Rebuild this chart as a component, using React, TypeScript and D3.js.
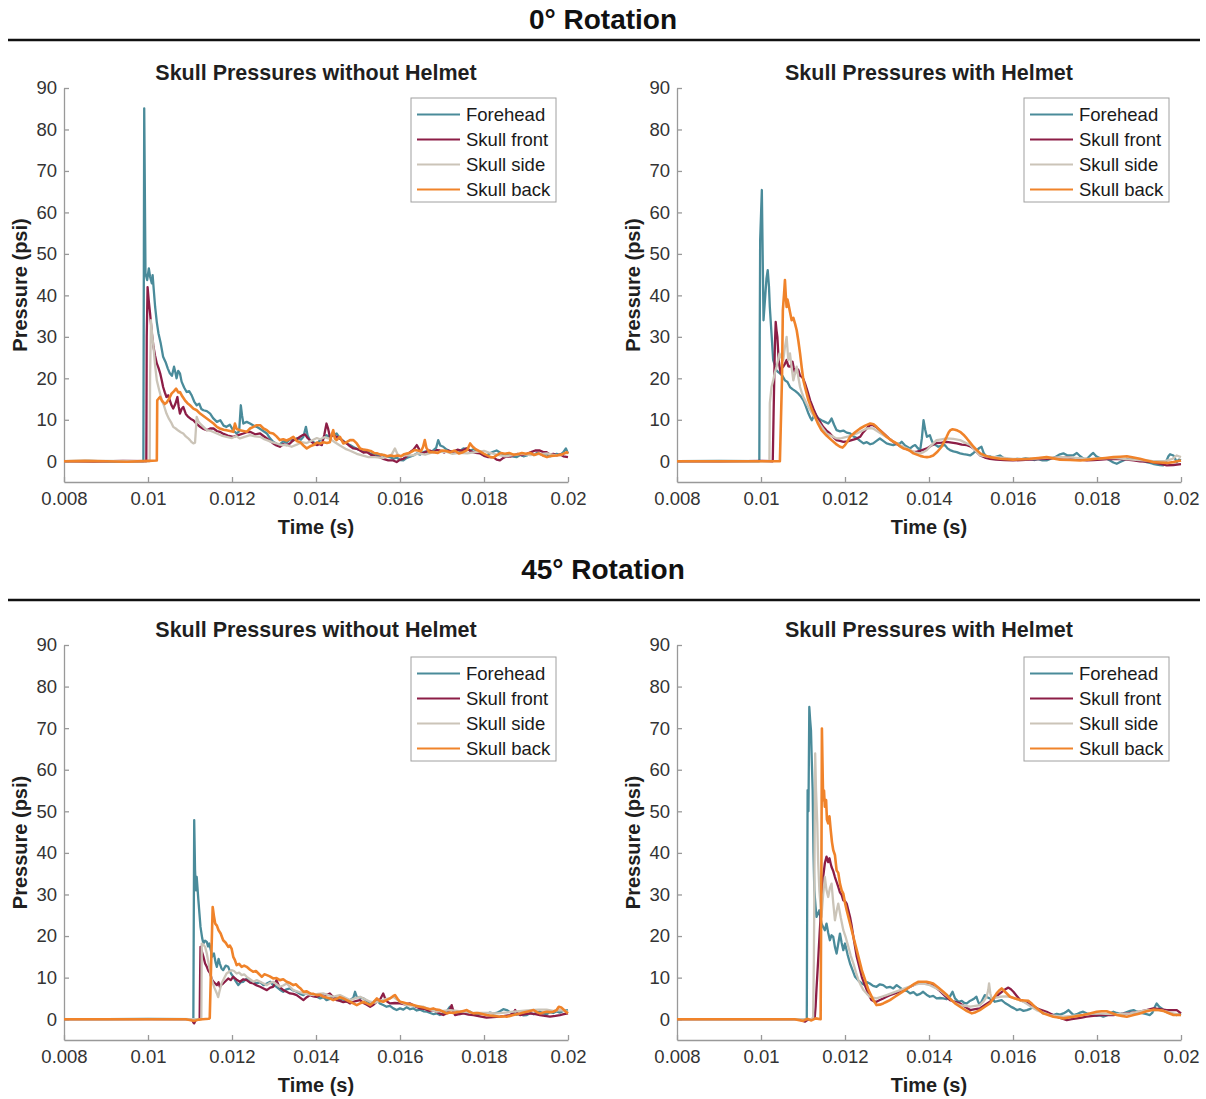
import React, { useRef, useEffect } from 'react';
import * as d3 from 'd3';

// legend + colours (same for every panel)
const seriesNames = ['Forehead', 'Skull front', 'Skull side', 'Skull back'];
const seriesColors = ['#4a8b9a', '#8c1d46', '#cbc4b8', '#f0832a'];

// time in ms, labels shown in s
const xTicks = [8, 10, 12, 14, 16, 18, 20];
const xTickLabels = ['0.008', '0.01', '0.012', '0.014', '0.016', '0.018', '0.02'];
const yTicks = [0, 10, 20, 30, 40, 50, 60, 70, 80, 90];

const sectionTitles = ['0° Rotation', '45° Rotation'];
const panelTitles = ['Skull Pressures without Helmet', 'Skull Pressures with Helmet'];

// ---- 0 deg, no helmet : [ms, psi]
const r0NoForehead = [[8,0],[8.6,0.1],[9.2,-0.1],[9.89,0],[9.91,85.1],[9.94,45.3],[9.98,43.7],[10.02,46.5],[10.05,44.5],[10.09,42.9],[10.11,44.9],[10.14,41],[10.17,37.2],[10.21,33.5],[10.25,30.8],[10.3,28.6],[10.36,25.2],[10.42,23.9],[10.47,22.4],[10.52,21.2],[10.57,20.6],[10.62,22.8],[10.65,21.5],[10.68,20],[10.72,21.8],[10.76,21.2],[10.8,19.2],[10.86,17.8],[10.92,16.7],[10.98,16.9],[11.04,15.9],[11.1,14.4],[11.16,13.5],[11.22,13.9],[11.27,12.6],[11.32,12.3],[11.4,12.1],[11.48,11.5],[11.55,10.4],[11.64,9.5],[11.72,9.9],[11.8,8.6],[11.87,8.3],[11.95,8.8],[12.03,7.4],[12.11,6.7],[12.17,7.2],[12.21,13.5],[12.24,11],[12.27,9.1],[12.35,9.5],[12.43,9.1],[12.51,8.6],[12.59,8.3],[12.7,7.6],[12.83,6.7],[12.9,5.6],[12.98,4.7],[13.06,4.2],[13.14,4.1],[13.22,4.8],[13.3,4.5],[13.38,5.3],[13.46,5.0],[13.56,5.6],[13.64,5.2],[13.7,5.9],[13.76,8.3],[13.8,6.2],[13.86,5.0],[13.94,4.6],[14.02,4.2],[14.1,5.1],[14.18,5.6],[14.25,6.3],[14.33,5.8],[14.41,6.4],[14.49,6.7],[14.57,5.5],[14.65,4.9],[14.73,4.3],[14.81,3.9],[14.9,3.4],[14.97,3.0],[15.05,2.7],[15.13,2.2],[15.21,2.5],[15.28,1.9],[15.36,1.8],[15.46,1.4],[15.56,1.6],[15.66,1.1],[15.76,1.0],[15.85,0.6],[15.92,0.9],[16.0,0.3],[16.08,0.2],[16.16,0.8],[16.24,1.1],[16.32,1.4],[16.4,1.9],[16.48,1.6],[16.55,2.2],[16.63,2.4],[16.71,2.1],[16.79,2.6],[16.86,3.2],[16.91,5.1],[16.96,3.8],[17.03,3.5],[17.11,2.8],[17.19,2.4],[17.27,2.2],[17.35,2.7],[17.43,2.5],[17.51,3.1],[17.59,3.0],[17.67,2.6],[17.75,2.9],[17.83,2.6],[17.9,2.0],[17.98,1.6],[18.06,1.4],[18.14,1.9],[18.22,2.3],[18.3,2.6],[18.38,2.1],[18.46,1.6],[18.54,1.8],[18.62,1.3],[18.7,1.1],[18.78,1.0],[18.86,1.5],[18.94,1.2],[19.02,1.4],[19.1,1.9],[19.18,1.5],[19.26,2.0],[19.33,1.8],[19.41,1.4],[19.49,1.7],[19.57,1.2],[19.65,1.4],[19.73,1.8],[19.81,1.5],[19.89,2.2],[19.95,3.1],[20.0,1.9]];
const r0NoFront = [[8,0],[8.7,-0.1],[9.4,0.1],[9.96,0],[9.97,30],[9.99,42],[10.02,38.5],[10.05,35.6],[10.09,31],[10.13,27.6],[10.17,25.4],[10.21,23.6],[10.25,22.5],[10.29,21.2],[10.33,19.4],[10.36,17.9],[10.4,16.6],[10.44,15.5],[10.48,15.9],[10.52,14.7],[10.56,13.5],[10.6,12.7],[10.65,13.8],[10.7,15.5],[10.73,13.2],[10.76,11.5],[10.8,12.6],[10.84,13.1],[10.9,11.4],[10.96,10.7],[11.02,10.2],[11.08,9.9],[11.16,9.0],[11.24,8.3],[11.32,7.8],[11.4,7.5],[11.48,7.9],[11.56,7.9],[11.64,7.3],[11.71,7.1],[11.8,6.6],[11.9,6.2],[12.03,5.9],[12.15,6.3],[12.27,6.7],[12.35,7.0],[12.43,7.1],[12.55,6.5],[12.67,6.7],[12.75,6.1],[12.83,5.5],[12.9,4.9],[12.98,4.3],[13.06,3.8],[13.14,3.5],[13.22,4.1],[13.3,3.9],[13.38,4.3],[13.46,5.1],[13.54,5.3],[13.62,5.9],[13.68,6.3],[13.74,6.5],[13.8,5.6],[13.86,5.0],[13.94,4.3],[14.02,3.9],[14.08,4.1],[14.14,3.9],[14.2,6.5],[14.25,9.1],[14.29,7.8],[14.33,5.9],[14.41,6.3],[14.49,5.9],[14.57,5.5],[14.65,4.8],[14.73,4.3],[14.81,3.6],[14.89,3.1],[14.97,3.0],[15.05,2.6],[15.13,2.1],[15.21,2.2],[15.3,1.6],[15.4,1.2],[15.52,1.0],[15.62,0.5],[15.72,0.2],[15.84,0.2],[15.92,-0.2],[16.0,0.4],[16.08,0.6],[16.16,1.2],[16.24,2.2],[16.32,2.8],[16.4,3.9],[16.46,2.8],[16.52,1.8],[16.6,2.2],[16.71,2.6],[16.8,2.2],[16.88,2.7],[16.95,2.6],[17.05,2.1],[17.15,2.6],[17.27,2.2],[17.37,2.8],[17.47,2.5],[17.59,3.1],[17.7,2.3],[17.8,2.0],[17.9,1.9],[18.0,1.3],[18.1,1.0],[18.22,1.0],[18.3,0.4],[18.38,0.2],[18.46,0.8],[18.54,1.2],[18.62,1.1],[18.7,1.4],[18.8,1.8],[18.9,1.5],[19.02,1.8],[19.12,2.2],[19.22,2.6],[19.33,2.6],[19.41,2.2],[19.49,2.2],[19.57,1.6],[19.65,1.8],[19.73,1.4],[19.81,1.7],[19.89,1.2],[20.0,1.0]];
const r0NoSide = [[8,0],[9,0.1],[10.04,0],[10.05,20],[10.07,34],[10.1,30.5],[10.13,27.6],[10.17,23],[10.21,19.5],[10.27,17],[10.33,14.7],[10.38,13.4],[10.44,11.5],[10.5,10.2],[10.55,9.4],[10.6,8.3],[10.66,7.9],[10.72,7.4],[10.78,7.0],[10.84,6.7],[10.9,6.0],[10.95,5.6],[11.0,5.1],[11.04,4.6],[11.08,4.3],[11.12,4.5],[11.16,10.7],[11.2,9.6],[11.24,9.1],[11.32,8.3],[11.4,7.5],[11.5,7.3],[11.64,6.7],[11.75,6.2],[11.87,5.9],[12.0,5.6],[12.1,6.1],[12.19,5.5],[12.3,5.9],[12.43,6.3],[12.55,6.0],[12.67,5.9],[12.75,5.4],[12.83,5.1],[12.95,4.6],[13.06,4.3],[13.18,3.9],[13.3,3.9],[13.42,3.5],[13.54,4.0],[13.66,4.6],[13.78,4.4],[13.9,5.0],[14.02,5.6],[14.1,5.3],[14.2,5.8],[14.33,5.4],[14.45,4.6],[14.57,3.8],[14.7,3.0],[14.8,2.6],[14.97,1.8],[15.1,1.4],[15.25,1.0],[15.4,1.0],[15.6,0.8],[15.8,1.6],[15.88,3.1],[15.94,1.7],[16.02,1.2],[16.12,1.4],[16.3,1.4],[16.45,1.9],[16.6,1.6],[16.75,2.1],[16.9,2.2],[17.1,2.3],[17.25,1.8],[17.4,2.0],[17.6,1.9],[17.8,2.2],[18.0,2.5],[18.15,2.0],[18.3,1.6],[18.5,1.2],[18.7,1.5],[18.9,1.8],[19.1,1.5],[19.3,1.7],[19.5,1.9],[19.7,1.4],[19.85,1.6],[20.0,2.2]];
const r0NoBack = [[8,0],[8.5,0.1],[9,0],[9.5,-0.1],[10.0,0.1],[10.21,0.2],[10.22,14.7],[10.26,15.2],[10.29,15.5],[10.33,14.6],[10.36,14.3],[10.4,13.8],[10.44,14.1],[10.5,15.0],[10.56,16.3],[10.62,16.9],[10.67,17.5],[10.72,16.6],[10.76,16.7],[10.82,15.6],[10.88,14.7],[10.94,14.0],[11.0,13.5],[11.08,12.7],[11.16,12.3],[11.24,11.5],[11.32,10.9],[11.4,10.3],[11.48,9.7],[11.56,9.1],[11.64,8.3],[11.71,7.9],[11.8,7.6],[11.87,7.5],[11.95,7.3],[12.03,7.1],[12.07,9.1],[12.11,7.8],[12.19,7.5],[12.27,7.3],[12.35,7.1],[12.43,7.9],[12.51,8.3],[12.59,8.7],[12.67,8.7],[12.75,7.9],[12.83,7.5],[12.9,6.9],[12.98,6.7],[13.06,6.0],[13.14,5.1],[13.22,5.3],[13.3,5.0],[13.38,5.4],[13.46,5.9],[13.54,4.9],[13.62,4.6],[13.7,3.8],[13.78,3.1],[13.86,3.6],[13.94,3.9],[14.02,4.5],[14.1,4.3],[14.18,4.6],[14.26,4.4],[14.33,4.6],[14.37,6.3],[14.41,7.5],[14.45,5.5],[14.49,5.1],[14.57,5.9],[14.65,4.3],[14.73,4.6],[14.81,5.1],[14.89,5.1],[14.97,4.3],[15.05,3.1],[15.13,2.8],[15.21,2.7],[15.3,2.5],[15.38,2.0],[15.46,1.9],[15.54,1.6],[15.62,1.5],[15.7,1.2],[15.78,1.4],[15.86,1.2],[15.94,1.4],[16.02,1.2],[16.1,1.7],[16.18,1.9],[16.26,2.2],[16.34,2.7],[16.42,2.6],[16.5,2.4],[16.55,3.5],[16.59,5.1],[16.63,3.2],[16.7,2.2],[16.8,2.2],[16.9,2.0],[17.0,2.6],[17.1,2.5],[17.2,2.2],[17.3,2.6],[17.4,1.9],[17.5,2.2],[17.6,2.7],[17.67,4.3],[17.72,3.6],[17.8,2.9],[17.9,2.4],[18.0,1.8],[18.1,1.3],[18.16,1.0],[18.22,0.9],[18.3,1.4],[18.4,2.0],[18.5,1.8],[18.6,2.0],[18.7,1.6],[18.8,1.7],[18.9,2.0],[19.0,1.8],[19.1,2.0],[19.2,1.5],[19.3,1.9],[19.4,1.4],[19.5,1.0],[19.6,1.3],[19.73,1.4],[19.85,1.6],[19.97,2.2],[20.0,1.8]];

// ---- 0 deg, with helmet
const r0HelmForehead = [[8,0],[9,0.1],[9.96,0],[9.97,30],[9.98,53.3],[10.02,65.4],[10.06,34.0],[10.1,39.7],[10.13,44],[10.16,46.1],[10.19,42.1],[10.21,37.2],[10.25,30.8],[10.29,24.4],[10.33,23.2],[10.36,22.0],[10.41,21.5],[10.45,21.2],[10.51,20.6],[10.57,19.5],[10.63,19.1],[10.69,17.9],[10.75,17.4],[10.82,16.9],[10.89,16.3],[10.95,15.6],[11.01,14.7],[11.07,13.2],[11.13,11.5],[11.17,10.6],[11.21,9.9],[11.25,10.8],[11.29,11.5],[11.36,10.4],[11.44,9.9],[11.52,9.5],[11.6,9.1],[11.64,9.6],[11.68,10.3],[11.74,8.8],[11.8,7.5],[11.88,7.2],[11.96,7.4],[12.04,6.9],[12.12,6.7],[12.2,6.0],[12.28,5.6],[12.36,4.9],[12.44,4.3],[12.52,4.6],[12.6,4.1],[12.67,4.3],[12.75,4.9],[12.83,5.5],[12.91,4.9],[12.99,4.3],[13.07,4.1],[13.15,3.9],[13.23,4.2],[13.31,4.3],[13.35,4.7],[13.43,3.8],[13.5,3.4],[13.55,3.1],[13.61,3.6],[13.67,3.9],[13.73,3.2],[13.79,2.7],[13.83,5.5],[13.87,9.9],[13.91,7.6],[13.95,5.9],[14.02,6.3],[14.06,5.1],[14.1,4.3],[14.16,3.9],[14.22,3.5],[14.3,3.8],[14.38,3.9],[14.44,3.1],[14.5,2.7],[14.58,2.4],[14.66,2.2],[14.74,1.9],[14.82,1.7],[14.9,1.6],[14.98,1.4],[15.06,2.0],[15.14,2.7],[15.2,3.2],[15.25,3.5],[15.3,2.0],[15.37,1.0],[15.45,1.2],[15.53,0.8],[15.61,1.1],[15.69,1.4],[15.77,0.8],[15.85,0.6],[15.93,0.4],[16.0,0.4],[16.1,0.6],[16.2,0.5],[16.3,0.7],[16.4,0.6],[16.5,0.3],[16.6,0.5],[16.7,0.2],[16.8,0.2],[16.9,0.6],[17.0,1.0],[17.1,1.6],[17.2,1.9],[17.3,1.4],[17.43,1.4],[17.52,2.0],[17.6,1.2],[17.68,0.6],[17.76,0.6],[17.84,1.4],[17.91,2.0],[17.98,1.2],[18.06,0.8],[18.15,0.6],[18.23,0.6],[18.31,0.2],[18.39,-0.3],[18.47,-0.6],[18.55,-0.2],[18.63,0.2],[18.71,0.6],[18.79,0.4],[18.87,0.6],[18.95,0.3],[19.02,0.2],[19.1,0.1],[19.18,-0.2],[19.26,-0.4],[19.33,-0.6],[19.42,-0.8],[19.5,-0.9],[19.58,-1.0],[19.64,-0.2],[19.7,1.2],[19.74,1.7],[19.82,1.4],[19.9,-0.2],[19.95,0.4],[20.0,0.2]];
const r0HelmFront = [[8,0],[9,-0.1],[10,0.1],[10.28,0],[10.3,11.5],[10.33,27.6],[10.35,33.6],[10.37,31.5],[10.39,30.0],[10.42,24.4],[10.45,22.3],[10.47,21.2],[10.5,22.5],[10.53,22.8],[10.57,23.5],[10.61,24.4],[10.65,22.9],[10.69,22.8],[10.72,23.4],[10.75,24.0],[10.78,22.5],[10.81,21.2],[10.85,22.4],[10.89,22.0],[10.93,20.6],[10.97,20.4],[11.01,19.8],[11.05,18.7],[11.11,16.8],[11.17,14.7],[11.25,12.6],[11.33,10.7],[11.4,9.6],[11.48,8.3],[11.56,7.4],[11.64,6.7],[11.72,5.8],[11.8,5.1],[11.88,4.9],[11.96,4.7],[12.06,4.8],[12.16,5.1],[12.26,5.4],[12.36,5.9],[12.42,6.8],[12.48,7.5],[12.54,8.2],[12.6,8.7],[12.67,8.7],[12.75,8.2],[12.83,7.5],[12.95,6.4],[13.07,5.3],[13.19,4.4],[13.31,3.7],[13.43,3.1],[13.55,2.6],[13.63,2.2],[13.71,2.3],[13.79,2.5],[13.87,2.8],[13.95,3.1],[14.06,3.8],[14.18,4.4],[14.3,4.5],[14.42,4.7],[14.54,4.5],[14.66,4.3],[14.78,4.0],[14.9,3.9],[14.98,3.6],[15.06,3.1],[15.14,2.2],[15.22,1.4],[15.33,0.9],[15.45,0.6],[15.6,0.4],[15.8,0.3],[16.0,0.2],[16.2,0.3],[16.4,0.4],[16.6,0.5],[16.8,0.6],[17.0,0.8],[17.14,0.9],[17.28,1.0],[17.44,0.7],[17.6,0.4],[17.76,0.2],[17.92,0.3],[18.1,0.4],[18.25,0.5],[18.39,0.6],[18.55,0.5],[18.71,0.4],[18.87,0.2],[19.02,0.0],[19.18,-0.1],[19.33,-0.2],[19.5,-0.6],[19.66,-1.0],[19.82,-0.9],[20.0,-0.7]];
const r0HelmSide = [[8,0],[9,0],[10,0],[10.2,0],[10.21,14],[10.25,17.9],[10.29,19.5],[10.33,21.4],[10.37,22.8],[10.41,24.5],[10.44,26.0],[10.48,25.0],[10.53,24.4],[10.57,27.5],[10.61,30.0],[10.65,24.4],[10.69,26.0],[10.73,22.5],[10.77,19.5],[10.81,21.2],[10.85,22.8],[10.89,20.2],[10.93,17.9],[10.97,16.6],[11.01,15.5],[11.09,13.8],[11.17,12.3],[11.25,11.0],[11.33,9.9],[11.45,8.2],[11.56,6.7],[11.68,6.1],[11.8,5.5],[11.92,5.6],[12.04,5.9],[12.16,6.2],[12.28,6.7],[12.4,7.3],[12.52,7.9],[12.6,8.0],[12.67,7.9],[12.79,7.1],[12.91,6.3],[13.07,5.3],[13.23,4.3],[13.39,3.5],[13.55,2.7],[13.67,2.1],[13.79,1.9],[13.87,2.2],[13.95,2.7],[14.06,3.9],[14.18,5.1],[14.3,5.3],[14.42,5.5],[14.58,5.4],[14.74,5.1],[14.86,4.5],[14.98,3.9],[15.1,2.6],[15.22,1.4],[15.4,1.1],[15.61,1.0],[15.8,0.8],[16.0,0.6],[16.3,0.5],[16.6,0.7],[16.9,0.9],[17.2,1.0],[17.5,0.8],[17.8,0.6],[18.1,0.7],[18.4,0.8],[18.7,0.5],[19.0,0.3],[19.3,0.1],[19.6,0.0],[19.8,0.6],[19.9,1.4],[20.0,1.0]];
const r0HelmBack = [[8,0],[9,0],[10,0],[10.45,0],[10.5,20],[10.52,36.4],[10.55,40.5],[10.57,43.7],[10.59,40],[10.61,37.2],[10.63,39],[10.65,38.1],[10.69,36],[10.73,34.0],[10.77,34.6],[10.81,33.2],[10.85,31.6],[10.89,29],[10.93,26.0],[10.97,22.6],[11.01,19.5],[11.07,17],[11.13,14.7],[11.21,12.5],[11.29,10.7],[11.36,9.0],[11.44,7.5],[11.56,6.2],[11.68,5.1],[11.78,4.2],[11.88,3.5],[11.94,3.3],[12.0,3.9],[12.06,4.8],[12.12,5.9],[12.24,7.0],[12.36,7.9],[12.48,8.6],[12.6,9.1],[12.68,8.9],[12.75,8.3],[12.87,7.1],[12.99,5.9],[13.11,5.0],[13.23,4.3],[13.31,3.6],[13.39,3.1],[13.47,2.9],[13.55,2.5],[13.63,1.9],[13.71,1.6],[13.79,1.3],[13.87,1.1],[13.95,1.0],[14.02,1.1],[14.1,1.4],[14.2,2.3],[14.3,3.5],[14.36,4.7],[14.42,5.9],[14.47,7.0],[14.51,7.5],[14.56,7.7],[14.62,7.6],[14.68,7.4],[14.74,7.1],[14.82,6.4],[14.9,5.5],[14.98,4.5],[15.06,3.5],[15.14,2.7],[15.22,1.9],[15.33,1.4],[15.45,1.0],[15.57,0.8],[15.69,0.6],[15.85,0.5],[16.0,0.4],[16.2,0.5],[16.4,0.6],[16.6,0.8],[16.8,1.0],[16.96,0.7],[17.12,0.4],[17.36,0.3],[17.6,0.2],[17.8,0.4],[18.0,0.6],[18.2,0.8],[18.39,1.0],[18.55,1.1],[18.71,1.2],[18.87,0.9],[19.02,0.6],[19.18,0.2],[19.33,-0.2],[19.5,-0.3],[19.66,-0.4],[19.82,-0.2],[20.0,0.2]];

// ---- 45 deg, no helmet
const r45NoForehead = [[8,0],[9,0],[10,0.1],[11.08,0],[11.1,47.9],[11.12,36],[11.14,31.0],[11.16,34.2],[11.2,28.6],[11.25,22.2],[11.29,19.5],[11.32,18.2],[11.36,18.9],[11.4,18.6],[11.43,17.5],[11.46,18.2],[11.5,16.4],[11.52,15.0],[11.57,15.8],[11.61,13.6],[11.64,12.6],[11.68,14.5],[11.71,13.4],[11.75,12.2],[11.79,11.8],[11.85,12.9],[11.91,12.6],[11.97,11.1],[12.03,10.2],[12.09,9.1],[12.15,8.2],[12.21,8.9],[12.27,9.0],[12.35,9.8],[12.43,9.4],[12.51,8.9],[12.59,8.6],[12.67,8.9],[12.75,8.2],[12.83,8.6],[12.91,9.0],[12.98,8.2],[13.06,7.8],[13.14,7.1],[13.22,6.6],[13.3,7.2],[13.38,7.4],[13.46,6.9],[13.54,6.6],[13.62,6.1],[13.7,5.8],[13.78,6.4],[13.86,6.2],[13.94,5.6],[14.02,5.4],[14.1,5.0],[14.18,5.3],[14.25,4.6],[14.33,4.9],[14.41,5.4],[14.49,5.0],[14.57,4.6],[14.65,4.8],[14.73,4.2],[14.81,4.6],[14.89,5.2],[14.93,6.6],[14.97,5.4],[15.05,5.2],[15.13,5.0],[15.21,4.4],[15.29,3.8],[15.37,4.2],[15.45,4.6],[15.52,3.8],[15.6,3.4],[15.68,3.0],[15.76,3.2],[15.84,2.6],[15.92,2.2],[16.0,2.6],[16.08,2.3],[16.16,2.9],[16.24,2.4],[16.32,2.6],[16.4,2.1],[16.48,2.3],[16.56,1.9],[16.64,1.8],[16.72,1.5],[16.8,1.2],[16.88,1.4],[16.95,1.0],[17.03,1.4],[17.11,1.9],[17.19,3.0],[17.27,2.0],[17.35,1.4],[17.43,1.2],[17.51,1.6],[17.59,1.4],[17.67,1.8],[17.75,1.2],[17.83,1.0],[17.9,1.3],[17.98,1.4],[18.06,1.1],[18.14,1.6],[18.22,1.4],[18.3,1.5],[18.38,1.9],[18.46,2.4],[18.54,2.2],[18.62,1.7],[18.7,1.5],[18.78,1.1],[18.86,1.3],[18.94,0.9],[19.02,1.0],[19.1,1.5],[19.18,1.2],[19.26,1.6],[19.33,1.8],[19.41,1.4],[19.49,1.2],[19.57,1.7],[19.65,1.5],[19.73,1.9],[19.81,1.6],[19.89,2.0],[20.0,2.2]];
const r45NoFront = [[8,0],[9,0],[10,0],[11.05,0],[11.08,-0.8],[11.1,-1.0],[11.13,-0.3],[11.2,-0.1],[11.23,0],[11.24,10],[11.25,17.4],[11.29,16.0],[11.32,15.0],[11.36,13.4],[11.4,12.6],[11.44,11.6],[11.48,11.0],[11.52,9.6],[11.56,9.0],[11.6,8.6],[11.64,8.2],[11.68,8.9],[11.71,7.8],[11.75,8.3],[11.79,8.6],[11.85,9.2],[11.91,9.8],[11.97,9.4],[12.03,10.2],[12.11,9.5],[12.19,9.0],[12.27,9.6],[12.35,9.4],[12.43,8.8],[12.51,8.6],[12.59,8.1],[12.67,7.8],[12.75,7.4],[12.83,7.0],[12.91,7.6],[12.98,7.8],[13.02,8.6],[13.06,9.4],[13.12,7.9],[13.22,7.0],[13.3,6.6],[13.38,6.2],[13.46,6.1],[13.54,5.8],[13.62,5.2],[13.7,4.6],[13.78,5.3],[13.86,5.8],[13.94,5.5],[14.02,5.4],[14.1,5.7],[14.18,6.0],[14.25,5.8],[14.33,6.2],[14.41,5.3],[14.49,4.6],[14.57,4.4],[14.65,4.1],[14.73,4.3],[14.81,3.8],[14.89,4.2],[14.97,4.4],[15.05,4.6],[15.13,3.9],[15.21,3.5],[15.29,3.0],[15.37,3.5],[15.45,4.2],[15.52,4.6],[15.6,6.2],[15.65,4.9],[15.7,4.2],[15.76,3.8],[15.88,3.9],[16.0,3.8],[16.12,3.6],[16.24,3.8],[16.36,3.1],[16.48,2.6],[16.6,2.4],[16.7,2.0],[16.79,2.2],[16.9,1.6],[17.03,1.0],[17.13,1.5],[17.2,2.6],[17.23,3.4],[17.27,2.0],[17.31,1.0],[17.41,1.2],[17.51,1.4],[17.63,1.1],[17.75,1.0],[17.9,0.7],[18.06,0.4],[18.22,0.5],[18.38,0.6],[18.5,0.8],[18.62,1.0],[18.7,1.6],[18.74,2.2],[18.8,1.4],[18.86,1.0],[18.98,1.2],[19.1,1.4],[19.22,1.2],[19.33,1.0],[19.45,0.8],[19.57,0.6],[19.7,0.8],[19.81,1.0],[19.9,1.2],[20.0,1.4]];
const r45NoSide = [[8,0],[9,0],[10,0],[11.27,0],[11.28,18.2],[11.32,17.9],[11.36,17.4],[11.4,15.8],[11.46,12.5],[11.52,9.4],[11.58,7.6],[11.64,6.2],[11.67,5.3],[11.7,6.6],[11.75,8.6],[11.81,9.8],[11.87,11.0],[11.93,11.4],[11.99,11.8],[12.05,11.6],[12.11,11.0],[12.17,11.2],[12.23,10.6],[12.29,10.8],[12.35,10.2],[12.43,9.6],[12.51,9.0],[12.59,9.4],[12.67,9.0],[12.75,8.6],[12.83,8.2],[12.9,8.7],[12.98,9.0],[13.06,8.4],[13.14,7.8],[13.22,8.1],[13.3,8.6],[13.38,7.8],[13.46,7.0],[13.58,6.6],[13.7,6.2],[13.82,6.0],[13.94,5.8],[14.05,6.1],[14.17,6.2],[14.29,5.8],[14.41,5.4],[14.49,5.6],[14.57,5.8],[14.69,5.2],[14.81,4.6],[14.93,5.0],[15.05,5.4],[15.17,4.8],[15.29,4.2],[15.41,4.0],[15.52,4.4],[15.64,4.8],[15.76,5.0],[15.84,5.4],[15.92,4.8],[16.0,4.2],[16.08,3.8],[16.16,3.4],[16.28,3.3],[16.4,3.1],[16.56,3.0],[16.7,2.4],[16.87,1.8],[17.03,2.0],[17.19,2.2],[17.35,2.0],[17.51,1.8],[17.7,1.6],[17.9,1.5],[18.1,1.5],[18.3,1.4],[18.5,1.6],[18.7,1.8],[18.9,2.0],[19.1,2.2],[19.3,2.3],[19.49,2.3],[19.65,2.0],[19.81,2.2],[20.0,1.8]];
const r45NoBack = [[8,0],[9,0],[10,0],[10.9,0],[11.05,-0.3],[11.1,-0.4],[11.2,-0.1],[11.3,0],[11.45,0.1],[11.47,0.3],[11.5,12],[11.54,27.0],[11.57,24.8],[11.6,23.0],[11.64,22.5],[11.68,21.4],[11.73,20.6],[11.79,19.0],[11.85,18.4],[11.91,17.4],[11.95,17.7],[11.99,17.0],[12.03,15.0],[12.07,14.2],[12.11,13.0],[12.17,13.3],[12.23,12.6],[12.29,12.9],[12.35,12.6],[12.43,11.9],[12.51,11.4],[12.57,11.6],[12.63,11.0],[12.71,10.2],[12.77,10.8],[12.83,10.6],[12.9,10.3],[12.98,9.8],[13.06,9.9],[13.14,9.4],[13.22,9.6],[13.3,9.0],[13.38,8.7],[13.46,8.2],[13.52,8.4],[13.58,7.8],[13.64,7.3],[13.7,6.6],[13.78,6.7],[13.86,6.2],[13.94,6.1],[14.02,5.8],[14.1,5.9],[14.17,5.4],[14.25,5.2],[14.33,5.0],[14.41,4.6],[14.49,4.9],[14.57,5.3],[14.65,5.0],[14.73,4.6],[14.81,4.2],[14.89,3.8],[14.97,3.4],[15.05,3.8],[15.13,4.2],[15.21,3.8],[15.29,3.4],[15.37,4.1],[15.45,5.0],[15.52,4.4],[15.6,4.2],[15.68,4.6],[15.76,5.0],[15.84,5.6],[15.88,5.8],[15.94,4.9],[16.0,4.2],[16.08,4.0],[16.16,3.8],[16.24,3.6],[16.32,3.4],[16.4,3.2],[16.48,3.0],[16.56,2.8],[16.64,2.6],[16.72,2.4],[16.79,2.6],[16.87,2.3],[16.95,2.2],[17.03,1.8],[17.11,1.4],[17.19,1.6],[17.27,1.5],[17.35,1.7],[17.43,1.8],[17.51,2.0],[17.59,2.2],[17.67,1.7],[17.75,1.4],[17.83,1.5],[17.9,1.4],[17.98,1.2],[18.06,1.0],[18.14,0.9],[18.22,0.8],[18.3,0.7],[18.38,0.6],[18.46,0.7],[18.54,0.6],[18.62,0.8],[18.7,1.0],[18.78,1.2],[18.86,1.4],[18.94,1.6],[19.02,1.8],[19.1,2.0],[19.18,2.2],[19.26,1.7],[19.33,1.4],[19.41,1.6],[19.49,1.8],[19.57,1.7],[19.65,1.8],[19.73,2.2],[19.78,3.0],[19.84,2.8],[19.9,2.3],[19.95,1.8],[20.0,1.4]];

// ---- 45 deg, with helmet
const r45HelmForehead = [[8,0],[9,0],[10,0],[11.09,0],[11.11,55.1],[11.13,50],[11.15,75.1],[11.17,72],[11.19,69.5],[11.21,62],[11.23,55.1],[11.25,40],[11.27,31.0],[11.3,27],[11.32,24.6],[11.36,25.5],[11.39,26.2],[11.42,24.2],[11.44,23.0],[11.48,22.2],[11.52,21.4],[11.56,23.0],[11.6,20.8],[11.64,19.0],[11.68,20.2],[11.72,19.8],[11.76,17.4],[11.8,15.8],[11.84,18.2],[11.88,20.6],[11.92,18.4],[11.96,16.6],[12.0,18.2],[12.06,15.6],[12.12,13.4],[12.18,11.8],[12.24,10.2],[12.32,9.3],[12.4,8.6],[12.48,8.2],[12.53,8.9],[12.59,8.6],[12.67,8.0],[12.75,7.8],[12.83,8.4],[12.91,8.2],[12.99,7.6],[13.07,7.8],[13.15,7.4],[13.23,8.2],[13.31,7.6],[13.39,7.0],[13.47,6.8],[13.55,6.2],[13.63,6.5],[13.71,5.8],[13.79,6.1],[13.86,6.6],[13.94,5.9],[14.02,5.4],[14.1,5.6],[14.18,5.0],[14.26,5.1],[14.34,5.0],[14.42,4.8],[14.5,5.5],[14.56,6.6],[14.62,5.0],[14.7,4.2],[14.78,4.4],[14.84,3.9],[14.9,3.8],[14.96,4.3],[15.02,4.6],[15.08,5.0],[15.13,5.4],[15.17,4.2],[15.21,3.4],[15.27,4.6],[15.33,5.8],[15.39,5.3],[15.45,5.0],[15.51,4.7],[15.57,4.2],[15.65,4.4],[15.73,4.6],[15.81,3.9],[15.89,3.4],[15.97,2.9],[16.03,2.6],[16.09,2.2],[16.17,2.4],[16.25,2.0],[16.33,2.2],[16.41,2.5],[16.47,2.8],[16.52,3.0],[16.6,2.4],[16.66,1.9],[16.72,1.4],[16.8,1.6],[16.88,1.2],[16.96,1.0],[17.04,1.3],[17.12,1.1],[17.2,1.4],[17.27,1.8],[17.32,2.2],[17.38,1.6],[17.44,1.0],[17.52,1.2],[17.6,1.6],[17.67,1.8],[17.75,1.4],[17.83,1.2],[17.91,1.0],[17.99,0.8],[18.07,0.9],[18.15,0.6],[18.23,0.9],[18.31,1.4],[18.39,1.8],[18.47,1.5],[18.55,1.3],[18.63,1.4],[18.71,1.7],[18.79,2.0],[18.87,2.2],[18.95,1.8],[19.02,1.6],[19.1,1.4],[19.18,1.2],[19.26,1.0],[19.32,1.6],[19.38,3.0],[19.42,3.8],[19.48,3.0],[19.54,2.6],[19.6,2.0],[19.67,1.7],[19.74,1.4],[19.82,1.2],[19.9,1.0],[20.0,1.4]];
const r45HelmFront = [[8,0],[9,0],[10,0],[10.9,0],[11.0,-0.4],[11.05,-0.6],[11.1,-0.2],[11.2,0],[11.28,0.5],[11.3,3],[11.32,7.0],[11.36,14],[11.4,21.4],[11.44,28],[11.48,34.2],[11.52,37.5],[11.56,39.1],[11.6,37.8],[11.63,38.7],[11.66,37.4],[11.68,36.6],[11.72,35.6],[11.76,34.2],[11.8,33.0],[11.84,31.8],[11.88,30.5],[11.92,29.9],[11.96,28.6],[12.0,28.4],[12.04,27.8],[12.08,26.2],[12.12,24.6],[12.16,22.4],[12.2,19.8],[12.24,17.4],[12.28,15.0],[12.34,12.6],[12.4,10.2],[12.46,8.5],[12.52,7.0],[12.58,5.6],[12.63,4.6],[12.69,4.3],[12.75,4.2],[12.83,4.6],[12.91,5.0],[12.99,5.4],[13.07,5.8],[13.19,6.2],[13.31,6.6],[13.43,7.2],[13.55,7.8],[13.63,8.2],[13.71,8.6],[13.79,8.7],[13.86,8.7],[13.94,8.7],[14.02,8.6],[14.14,7.8],[14.26,6.8],[14.38,5.6],[14.5,4.6],[14.62,4.2],[14.74,3.8],[14.86,3.0],[14.98,2.2],[15.1,2.4],[15.21,2.6],[15.33,3.4],[15.45,4.2],[15.57,5.2],[15.69,6.2],[15.79,7.0],[15.89,7.6],[15.95,7.2],[16.01,6.6],[16.09,5.6],[16.17,4.6],[16.27,4.2],[16.36,3.8],[16.46,3.2],[16.56,2.6],[16.68,2.2],[16.8,1.8],[16.92,1.2],[17.04,0.6],[17.16,0.2],[17.28,-0.2],[17.4,0.0],[17.52,0.2],[17.64,0.4],[17.75,0.6],[17.91,0.8],[18.07,1.0],[18.23,1.0],[18.39,1.0],[18.55,1.2],[18.71,1.4],[18.87,1.6],[19.02,1.8],[19.18,2.2],[19.34,2.6],[19.5,2.4],[19.66,2.2],[19.8,2.2],[19.9,2.2],[20.0,1.4]];
const r45HelmSide = [[8,0],[9,0],[10,0],[11.0,0],[11.24,0],[11.26,15],[11.29,63.9],[11.31,55],[11.34,47.1],[11.36,38],[11.39,31.0],[11.42,27],[11.44,24.6],[11.48,30],[11.52,34.2],[11.56,31],[11.6,29.4],[11.64,31.5],[11.68,32.6],[11.72,28],[11.76,23.8],[11.8,26],[11.84,27.8],[11.9,24.4],[11.96,21.4],[12.02,19.6],[12.08,17.4],[12.14,15.2],[12.2,13.4],[12.26,11.3],[12.32,9.4],[12.38,8.1],[12.44,7.0],[12.52,6.1],[12.59,5.4],[12.67,5.2],[12.75,5.0],[12.87,5.4],[12.99,5.8],[13.15,6.4],[13.31,7.0],[13.47,7.6],[13.63,8.2],[13.75,8.5],[13.86,8.6],[13.94,8.4],[14.02,8.2],[14.14,7.6],[14.26,7.0],[14.38,6.0],[14.5,5.0],[14.62,3.9],[14.74,3.4],[14.86,3.2],[14.98,3.0],[15.1,3.2],[15.21,3.4],[15.3,4.3],[15.37,5.4],[15.41,7.0],[15.43,8.6],[15.46,6.2],[15.49,5.0],[15.59,5.2],[15.69,5.4],[15.81,5.5],[15.93,5.4],[16.09,4.8],[16.25,4.2],[16.4,3.2],[16.56,2.2],[16.72,1.6],[16.88,1.0],[17.04,0.8],[17.2,0.6],[17.4,0.8],[17.6,1.0],[17.8,1.2],[17.99,1.4],[18.2,1.3],[18.39,1.2],[18.6,1.3],[18.79,1.4],[19.0,1.8],[19.18,2.2],[19.34,2.2],[19.5,2.2],[19.66,1.8],[19.82,1.4],[20.0,1.0]];
const r45HelmBack = [[8,0],[9,0],[10,0],[10.8,0],[11.0,-0.4],[11.1,0.1],[11.2,-0.3],[11.3,0.2],[11.42,0],[11.44,40],[11.45,69.9],[11.47,58],[11.48,52.7],[11.5,55],[11.52,51.1],[11.55,52.7],[11.57,48],[11.6,47.1],[11.63,48.8],[11.66,45.5],[11.69,42.6],[11.72,40.7],[11.76,39.5],[11.8,35.8],[11.84,35.2],[11.88,32.6],[11.92,31.0],[11.96,30.2],[12.0,28.0],[12.04,26.2],[12.1,23.8],[12.16,21.4],[12.22,19.0],[12.28,16.6],[12.34,14.2],[12.4,11.8],[12.48,9.4],[12.56,7.0],[12.66,4.9],[12.75,3.4],[12.83,3.5],[12.91,3.8],[12.99,4.2],[13.07,4.6],[13.19,5.4],[13.31,6.2],[13.43,7.0],[13.55,7.8],[13.65,8.5],[13.75,9.0],[13.85,9.0],[13.94,9.0],[14.02,8.8],[14.1,8.6],[14.22,7.6],[14.34,6.6],[14.42,5.9],[14.5,4.9],[14.62,3.8],[14.74,3.0],[14.88,2.1],[15.02,1.4],[15.11,1.7],[15.21,2.2],[15.33,3.0],[15.45,3.8],[15.53,5.0],[15.61,6.2],[15.67,6.9],[15.73,7.4],[15.81,6.6],[15.87,6.0],[15.93,5.4],[16.05,5.0],[16.17,4.6],[16.27,4.5],[16.37,4.4],[16.45,3.7],[16.52,3.0],[16.62,2.2],[16.72,1.4],[16.84,1.0],[16.96,0.6],[17.08,0.4],[17.2,0.2],[17.32,0.4],[17.44,0.6],[17.55,0.8],[17.67,1.0],[17.83,1.4],[17.99,1.8],[18.11,1.9],[18.23,1.9],[18.35,1.5],[18.47,1.0],[18.59,0.8],[18.71,0.6],[18.87,1.0],[19.02,1.4],[19.18,1.9],[19.34,2.3],[19.46,2.2],[19.58,2.0],[19.7,1.5],[19.82,1.0],[20.0,1.0]];

const panels = [
  { row: 0, col: 0, title: panelTitles[0], series: [r0NoForehead, r0NoFront, r0NoSide, r0NoBack] },
  { row: 0, col: 1, title: panelTitles[1], series: [r0HelmForehead, r0HelmFront, r0HelmSide, r0HelmBack] },
  { row: 1, col: 0, title: panelTitles[0], series: [r45NoForehead, r45NoFront, r45NoSide, r45NoBack] },
  { row: 1, col: 1, title: panelTitles[1], series: [r45HelmForehead, r45HelmFront, r45HelmSide, r45HelmBack] },
];

const FONT = '"Liberation Sans", Arial, Helvetica, sans-serif';

const SkullPressureFigure = () => {
  const svgRef = useRef<SVGSVGElement>(null);

  useEffect(() => {
    const width = 1206, height = 1099;
    const colLeft = [64, 677];
    const plotW = 504;
    const rowTop = [88, 645];
    const plotH = [394, 395];
    const sectionY = [29, 579];
    const ruleY = [40, 600];

    const svg = d3.select(svgRef.current)
      .attr('width', width)
      .attr('height', height);
    svg.selectAll('*').remove();

    svg.append('rect').attr('width', width).attr('height', height).attr('fill', '#fff');

    // section headers
    sectionTitles.forEach((t, i) => {
      svg.append('text')
        .attr('x', width / 2)
        .attr('y', sectionY[i])
        .attr('text-anchor', 'middle')
        .attr('font-family', FONT)
        .attr('font-weight', 'bold')
        .attr('font-size', 28)
        .attr('fill', '#111')
        .text(t);
      svg.append('line')
        .attr('x1', 8).attr('x2', 1200)
        .attr('y1', ruleY[i]).attr('y2', ruleY[i])
        .attr('stroke', '#111')
        .attr('stroke-width', 2.5);
    });

    panels.forEach(p => {
      const x0 = colLeft[p.col];
      const y0 = rowTop[p.row];
      const h = plotH[p.row];

      const x = d3.scaleLinear().domain([8, 20]).range([0, plotW]);
      const y = d3.scaleLinear().domain([-5, 90]).range([h, 0]);

      const g = svg.append('g').attr('transform', `translate(${x0},${y0})`);

      // axes, ticks pointing inward
      const xAxis = d3.axisBottom(x)
        .tickValues(xTicks)
        .tickFormat((d, i) => xTickLabels[i])
        .tickSizeInner(-5)
        .tickSizeOuter(0)
        .tickPadding(10);
      const yAxis = d3.axisLeft(y)
        .tickValues(yTicks)
        .tickSizeInner(-5)
        .tickSizeOuter(0)
        .tickPadding(7);

      const gx = g.append('g').attr('transform', `translate(0,${h})`).call(xAxis);
      const gy = g.append('g').call(yAxis);
      [gx, gy].forEach(a => {
        a.attr('font-family', FONT).attr('font-size', 18.5);
        a.select('.domain').attr('stroke', '#999').attr('stroke-width', 1.3);
        a.selectAll('.tick line').attr('stroke', '#999').attr('stroke-width', 1.3);
        a.selectAll('.tick text').attr('fill', '#333');
      });

      // lines
      const line = d3.line<number[]>()
        .x(d => x(d[0]))
        .y(d => y(d[1]));

      p.series.forEach((s, i) => {
        g.append('path')
          .datum(s)
          .attr('d', line)
          .attr('fill', 'none')
          .attr('stroke', seriesColors[i])
          .attr('stroke-width', i === 3 ? 2.6 : 2.3)
          .attr('stroke-linejoin', 'round');
      });

      // titles
      g.append('text')
        .attr('x', plotW / 2)
        .attr('y', -8)
        .attr('text-anchor', 'middle')
        .attr('font-family', FONT)
        .attr('font-weight', 'bold')
        .attr('font-size', 21.5)
        .attr('fill', '#1f1f1f')
        .text(p.title);

      g.append('text')
        .attr('x', plotW / 2)
        .attr('y', h + 52)
        .attr('text-anchor', 'middle')
        .attr('font-family', FONT)
        .attr('font-weight', 'bold')
        .attr('font-size', 20)
        .attr('fill', '#1f1f1f')
        .text('Time (s)');

      g.append('text')
        .attr('transform', `translate(-37,${h / 2}) rotate(-90)`)
        .attr('text-anchor', 'middle')
        .attr('font-family', FONT)
        .attr('font-weight', 'bold')
        .attr('font-size', 20)
        .attr('fill', '#1f1f1f')
        .text('Pressure (psi)');

      // legend
      const lg = g.append('g').attr('transform', `translate(${plotW - 157},${p.row === 0 ? 10 : 12})`);
      lg.append('rect')
        .attr('width', 145)
        .attr('height', 104)
        .attr('fill', '#fff')
        .attr('stroke', '#a0a0a0')
        .attr('stroke-width', 1);
      seriesNames.forEach((name, i) => {
        const ly = 16.5 + i * 25;
        lg.append('line')
          .attr('x1', 6).attr('x2', 49)
          .attr('y1', ly).attr('y2', ly)
          .attr('stroke', seriesColors[i])
          .attr('stroke-width', 2.2);
        lg.append('text')
          .attr('x', 55)
          .attr('y', ly)
          .attr('dy', '0.35em')
          .attr('font-family', FONT)
          .attr('font-size', 18.5)
          .attr('fill', '#1a1a1a')
          .text(name);
      });
    });
  }, []);

  return (
    <div style={{ position: 'absolute', left: 0, top: 0 }}>
      <svg ref={svgRef} style={{ display: 'block' }}></svg>
    </div>
  );
};

export default function App() {
  return <SkullPressureFigure />;
}
